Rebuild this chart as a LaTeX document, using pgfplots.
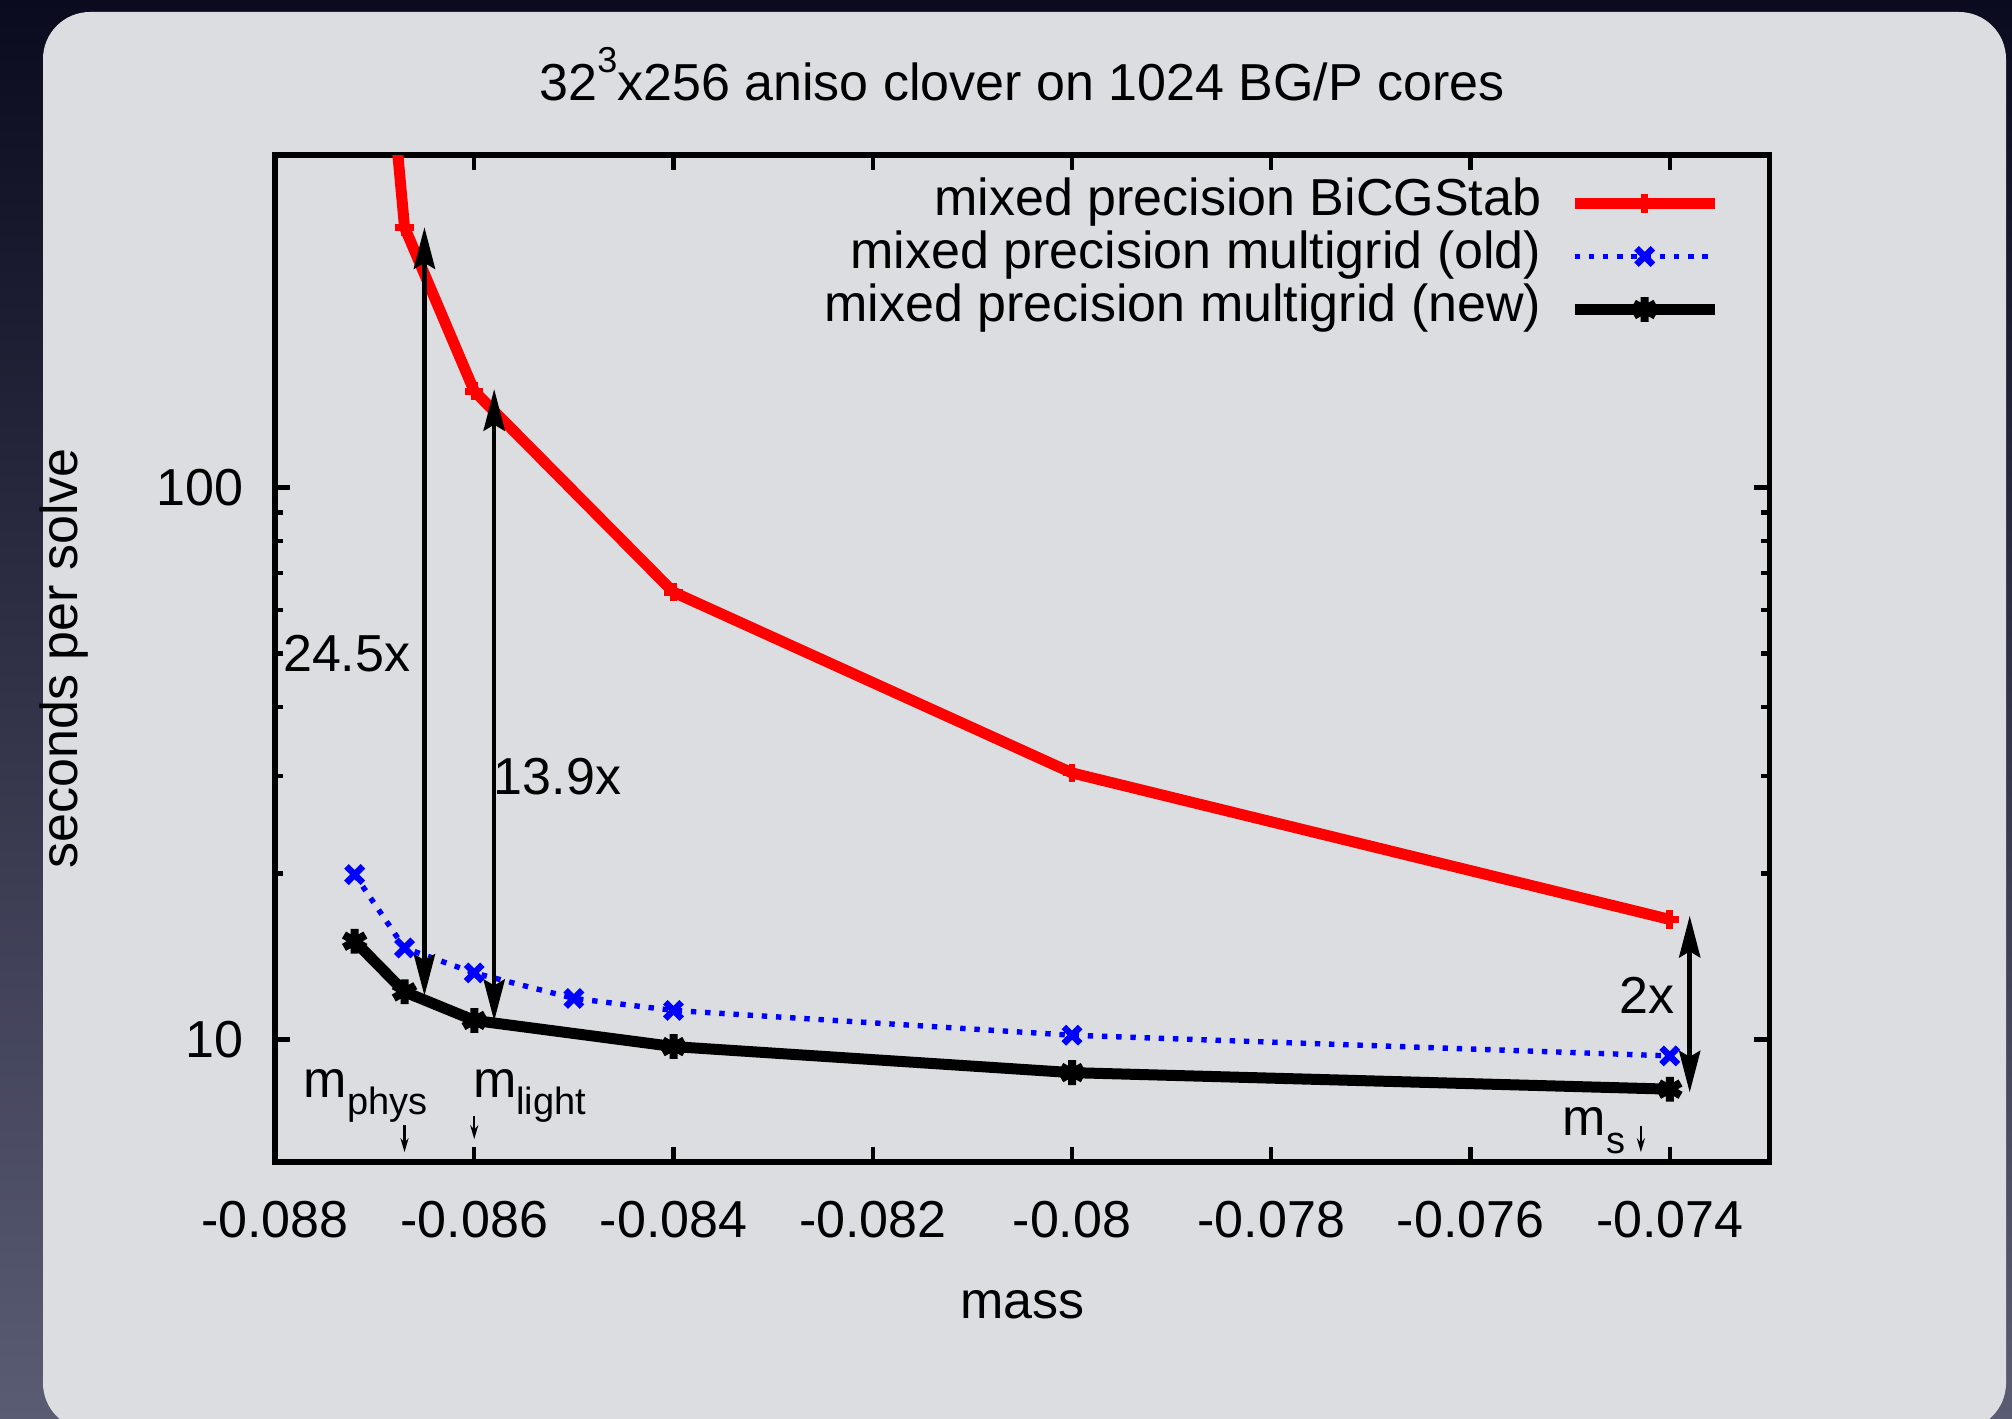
\documentclass[border=0pt]{standalone}
\usepackage{fontspec}
\setmainfont{Liberation Sans}
\usepackage{pgfplots}
\pgfplotsset{compat=1.18}
\usetikzlibrary{arrows.meta}
\definecolor{bgtop}{HTML}{0B0B1F}
\definecolor{bgbot}{HTML}{5A5C74}
\definecolor{panel}{HTML}{DCDDE0}
\newcommand{\sub}[1]{\raisebox{-4.4pt}{\fontsize{9.5}{11}\selectfont #1}}

\begin{document}
\begin{tikzpicture}[font=\fontsize{13}{15.6}\selectfont]
\path[use as bounding box] (0,0) rectangle (503pt,354.5pt);
\shade[top color=bgtop, bottom color=bgbot] (0,0) rectangle (503pt,354.5pt);
\fill[panel, rounded corners=11.75pt] (10.75pt,-3pt) rectangle (501.5pt,351.5pt);
\begin{axis}[
  at={(68.75pt,64pt)}, anchor=south west,
  scale only axis, width=373.6pt, height=251.75pt,
  xmin=-0.088, xmax=-0.073,
  ymode=log, ymin=6, ymax=400,
  xtick={-0.088,-0.086,-0.084,-0.082,-0.080,-0.078,-0.076,-0.074},
  xticklabels={-0.088,-0.086,-0.084,-0.082,-0.08,-0.078,-0.076,-0.074},
  scaled x ticks=false,
  ytick={10,100}, yticklabels={10,100},
  axis line style={line width=1.3pt},
  every tick/.style={black, line width=1.1pt},
  major tick length=3.75pt, minor tick length=2pt,
  x tick label style={yshift=-6.25pt},
  y tick label style={xshift=-4.4pt},
  title={32\raisebox{7pt}{\fontsize{9}{10}\selectfont 3}x256 aniso clover on 1024 BG/P cores},
  title style={at={(axis description cs:0.5,1)}, anchor=base, yshift=7.75pt, inner sep=0pt},
  xlabel={mass},
  xlabel style={at={(axis description cs:0.5,-0.142)}, anchor=center},
  ylabel={seconds per solve},
  ylabel style={at={(axis description cs:-0.1412,0.5)}, anchor=center, rotate=0},
  legend plot pos=right,
  legend cell align=right,
  legend style={draw=none, fill=none, at={(axis description cs:0.9676,0.978)}, anchor=north east,
    inner sep=0pt, column sep=7pt, row sep=0.5pt,
    nodes={inner sep=0pt, text height=9.5pt, text depth=3.25pt}},
  legend image code/.code={\draw[mark repeat=2,mark phase=2,#1] plot coordinates {(0pt,0pt) (17.5pt,0pt) (35pt,0pt)};},
]
\addplot[color=red, line width=2.75pt, mark=+, mark size=2.3pt, mark options={line width=1.7pt}] coordinates {
  (-0.0872,2850) (-0.0867,296) (-0.086,149.4) (-0.084,64.6) (-0.080,30.4) (-0.074,16.5)
};
\addlegendentry{mixed precision BiCGStab}
\addplot[color=blue, line width=1.35pt, dash pattern=on 1.35pt off 2.2pt, mark=x, mark size=2.9pt, mark options={solid, line width=1.6pt}] coordinates {
  (-0.0872,19.9) (-0.0867,14.65) (-0.086,13.2) (-0.085,11.87) (-0.084,11.29) (-0.080,10.18) (-0.074,9.34)
};
\addlegendentry{mixed precision multigrid (old)}
\addplot[color=black, line width=2.75pt, mark=asterisk, mark size=3.1pt, mark options={line width=2pt}] coordinates {
  (-0.0872,15.07) (-0.0867,12.2) (-0.086,10.83) (-0.084,9.71) (-0.080,8.71) (-0.074,8.13)
};
\addlegendentry{mixed precision multigrid (new)}

% ratio arrows
\draw[line width=1.15pt, {Stealth[length=10.4pt,width=5.3pt,inset=1.5pt]}-{Stealth[length=10.4pt,width=5.3pt,inset=1.5pt]}]
  (axis cs:-0.0865,12.0) -- (axis cs:-0.0865,296);
\draw[line width=1.15pt, {Stealth[length=10.4pt,width=5.3pt,inset=1.5pt]}-{Stealth[length=10.4pt,width=5.3pt,inset=1.5pt]}]
  (axis cs:-0.0858,10.8) -- (axis cs:-0.0858,150.7);
\draw[line width=1.15pt, {Stealth[length=10.4pt,width=5.3pt,inset=1.5pt]}-{Stealth[length=10.4pt,width=5.3pt,inset=1.5pt]}]
  (axis cs:-0.0738,8.02) -- (axis cs:-0.0738,16.75);
\node at (axis cs:-0.08728,50) {24.5x};
\node at (axis cs:-0.085165,29.9) {13.9x};
\node at (axis cs:-0.07423,12.0) {2x};

% mass markers
\node[anchor=base west, inner sep=0pt] at (axis cs:-0.08772,7.86) {m\sub{phys}};
\node[anchor=base west, inner sep=0pt] at (axis cs:-0.08602,7.86) {m\sub{light}};
\node[anchor=base west, inner sep=0pt] at (axis cs:-0.07508,6.69) {m\sub{s}};
\draw[line width=0.6pt, -{Stealth[length=3.5pt,width=2pt]}] (axis cs:-0.0867,6.99) -- (axis cs:-0.0867,6.25);
\draw[line width=0.6pt, -{Stealth[length=3.5pt,width=2pt]}] (axis cs:-0.086,7.27) -- (axis cs:-0.086,6.60);
\draw[line width=0.6pt, -{Stealth[length=3.5pt,width=2pt]}] (axis cs:-0.07429,6.98) -- (axis cs:-0.07429,6.25);
\end{axis}
\end{tikzpicture}
\end{document}
